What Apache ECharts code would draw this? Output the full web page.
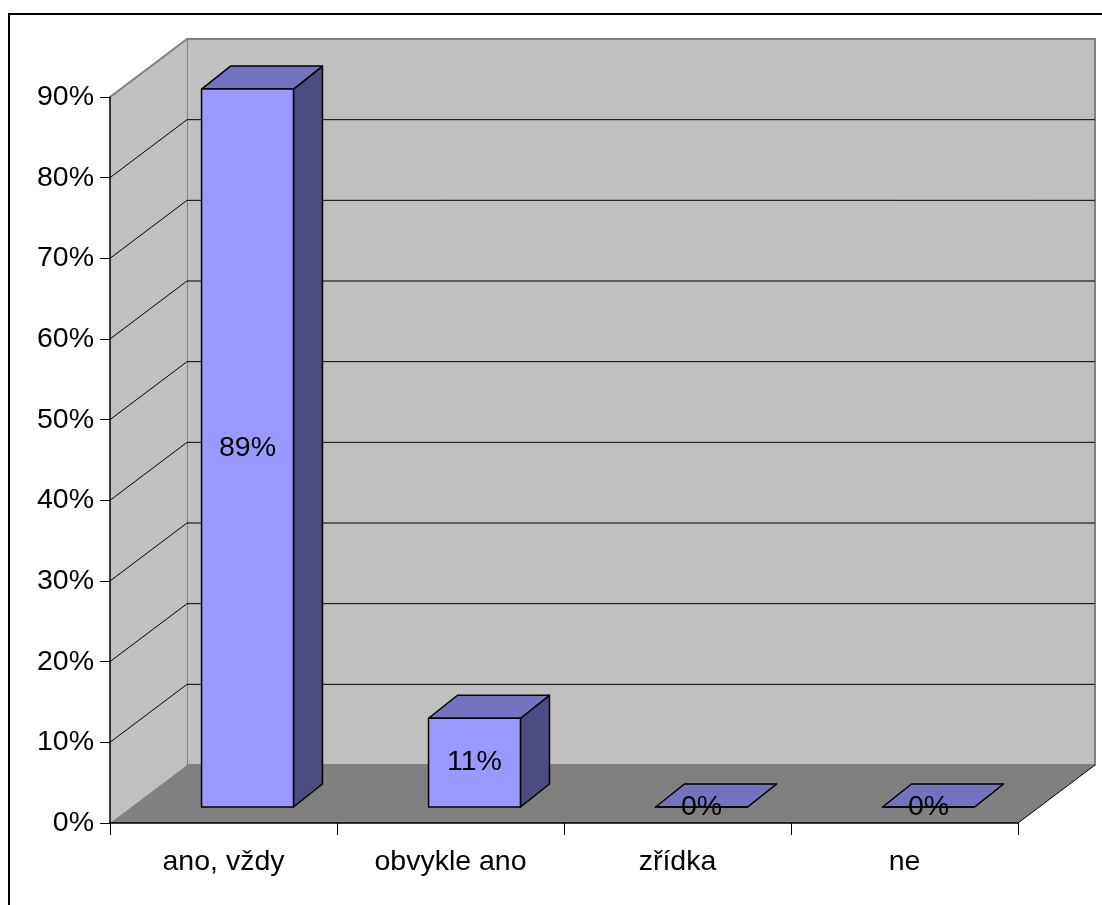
<!DOCTYPE html>
<html>
<head>
<meta charset="utf-8">
<script src="https://cdn.jsdelivr.net/npm/echarts@6/dist/echarts.min.js"></script>
<style>
  html, body { margin: 0; padding: 0; background: #fff; }
  #chart { width: 1102px; height: 905px; }
</style>
</head>
<body>
<div id="chart"></div>
<script>
// Answer categories and their shares
const categories = ['ano, vždy', 'obvykle ano', 'zřídka', 'ne'];
const shares = [0.89, 0.11, 0, 0];
const axisMax = 0.9;
const axisStep = 0.1;

const FONT = '"Liberation Sans", Arial, sans-serif';
const FONT_SIZE = 28.5;
// pseudo-3D depth of the plot box (pixels)
const WALL_DX = 77, WALL_DY = 58;
// bar placement inside the box depth
const BAR_OFF_DX = 24, BAR_OFF_DY = 16;
const BAR_DEPTH_DX = 29, BAR_DEPTH_DY = 23;
const BAR_WIDTH_FRAC = 0.405;

const COLOR_FRONT = '#9999ff';
const COLOR_TOP = '#7373bf';
const COLOR_SIDE = '#4c4c80';

function pct(v) { return Math.round(v * 100) + '%'; }

// Back wall, side wall, floor and their gridlines
function renderWalls(params, api) {
  const cs = params.coordSys;
  const x0 = cs.x, x1 = cs.x + cs.width;
  const yBase = api.coord([0, 0])[1];
  const yTop = api.coord([0, axisMax])[1];
  const children = [];
  children.push({
    type: 'rect',
    shape: { x: x0 + WALL_DX, y: yTop - WALL_DY, width: x1 - x0, height: yBase - yTop },
    style: { fill: '#c0c0c0', stroke: '#808080', lineWidth: 2 }
  });
  children.push({
    type: 'polygon',
    shape: { points: [[x0, yBase], [x0, yTop], [x0 + WALL_DX, yTop - WALL_DY], [x0 + WALL_DX, yBase - WALL_DY]] },
    style: { fill: '#c0c0c0' }
  });
  children.push({
    type: 'polygon',
    shape: { points: [[x0, yBase], [x1, yBase], [x1 + WALL_DX, yBase - WALL_DY], [x0 + WALL_DX, yBase - WALL_DY]] },
    style: { fill: '#808080' }
  });
  const n = Math.round(axisMax / axisStep);
  for (let i = 1; i < n; i++) {
    const y = api.coord([0, i * axisStep])[1];
    children.push({
      type: 'polyline',
      shape: { points: [[x0, y], [x0 + WALL_DX, y - WALL_DY], [x1 + WALL_DX, y - WALL_DY]] },
      style: { fill: null, stroke: '#000', lineWidth: 1 }
    });
  }
  // top edge of the side wall
  children.push({
    type: 'line',
    shape: { x1: x0, y1: yTop, x2: x0 + WALL_DX, y2: yTop - WALL_DY },
    style: { stroke: '#808080', lineWidth: 2 }
  });
  // right edge of the floor
  children.push({
    type: 'line',
    shape: { x1: x1, y1: yBase, x2: x1 + WALL_DX, y2: yBase - WALL_DY },
    style: { stroke: '#000', lineWidth: 1 }
  });
  return { type: 'group', children: children };
}

// One prism per category, value label on its front face
function renderBar(params, api) {
  const idx = api.value(0), val = api.value(1);
  const base = api.coord([idx, 0]);
  const top = api.coord([idx, val]);
  const bw = api.size([1, 0])[0] * BAR_WIDTH_FRAC;
  const cx = base[0] + BAR_OFF_DX;
  const xl = cx - bw / 2, xr = cx + bw / 2;
  const yb = base[1] - BAR_OFF_DY, yt = top[1] - BAR_OFF_DY;
  const edge = { stroke: '#000', lineWidth: 1.5, lineJoin: 'round' };
  return {
    type: 'group',
    children: [
      {
        type: 'polygon',
        shape: { points: [[xr, yb], [xr, yt], [xr + BAR_DEPTH_DX, yt - BAR_DEPTH_DY], [xr + BAR_DEPTH_DX, yb - BAR_DEPTH_DY]] },
        style: Object.assign({ fill: COLOR_SIDE }, edge)
      },
      {
        type: 'polygon',
        shape: { points: [[xl, yt], [xr, yt], [xr + BAR_DEPTH_DX, yt - BAR_DEPTH_DY], [xl + BAR_DEPTH_DX, yt - BAR_DEPTH_DY]] },
        style: Object.assign({ fill: COLOR_TOP }, edge)
      },
      {
        type: 'rect',
        shape: { x: xl, y: yt, width: bw, height: yb - yt },
        style: Object.assign({ fill: COLOR_FRONT }, edge)
      },
      {
        type: 'text',
        x: cx, y: (yt + yb) / 2,
        style: {
          text: pct(val), fill: '#000', font: FONT_SIZE + 'px ' + FONT,
          align: 'center', verticalAlign: 'middle'
        }
      }
    ]
  };
}

const chart = echarts.init(document.getElementById('chart'), null, { renderer: 'canvas' });
chart.setOption({
  animation: false,
  backgroundColor: '#fff',
  textStyle: { fontFamily: FONT },
  graphic: [{
    type: 'rect',
    shape: { x: 9, y: 14, width: 1200, height: 1000 },
    style: { fill: null, stroke: '#000', lineWidth: 2 },
    z: 100
  }],
  grid: { left: 110, right: 84, top: 97, bottom: 82 },
  xAxis: {
    type: 'category',
    data: categories,
    z: 5,
    axisLine: { lineStyle: { color: '#000', width: 1.5 } },
    axisTick: { show: true, length: 12, lineStyle: { color: '#000' } },
    axisLabel: { color: '#000', fontSize: FONT_SIZE, fontFamily: FONT, margin: 25 },
    splitLine: { show: false }
  },
  yAxis: {
    type: 'value',
    min: 0,
    max: axisMax,
    interval: axisStep,
    z: 5,
    axisLine: { show: true, lineStyle: { color: '#000', width: 1.5 } },
    axisTick: { show: true, length: 10, lineStyle: { color: '#000' } },
    axisLabel: { color: '#000', fontSize: FONT_SIZE, fontFamily: FONT, margin: 16, formatter: pct },
    splitLine: { show: false }
  },
  series: [
    {
      type: 'custom',
      name: 'walls',
      renderItem: renderWalls,
      data: [[0, 0]],
      clip: false,
      silent: true,
      z: 1
    },
    {
      type: 'custom',
      name: 'podíl',
      renderItem: renderBar,
      data: shares.map((v, i) => [i, v]),
      encode: { x: 0, y: 1 },
      clip: false,
      z: 3
    }
  ]
});
</script>
</body>
</html>
